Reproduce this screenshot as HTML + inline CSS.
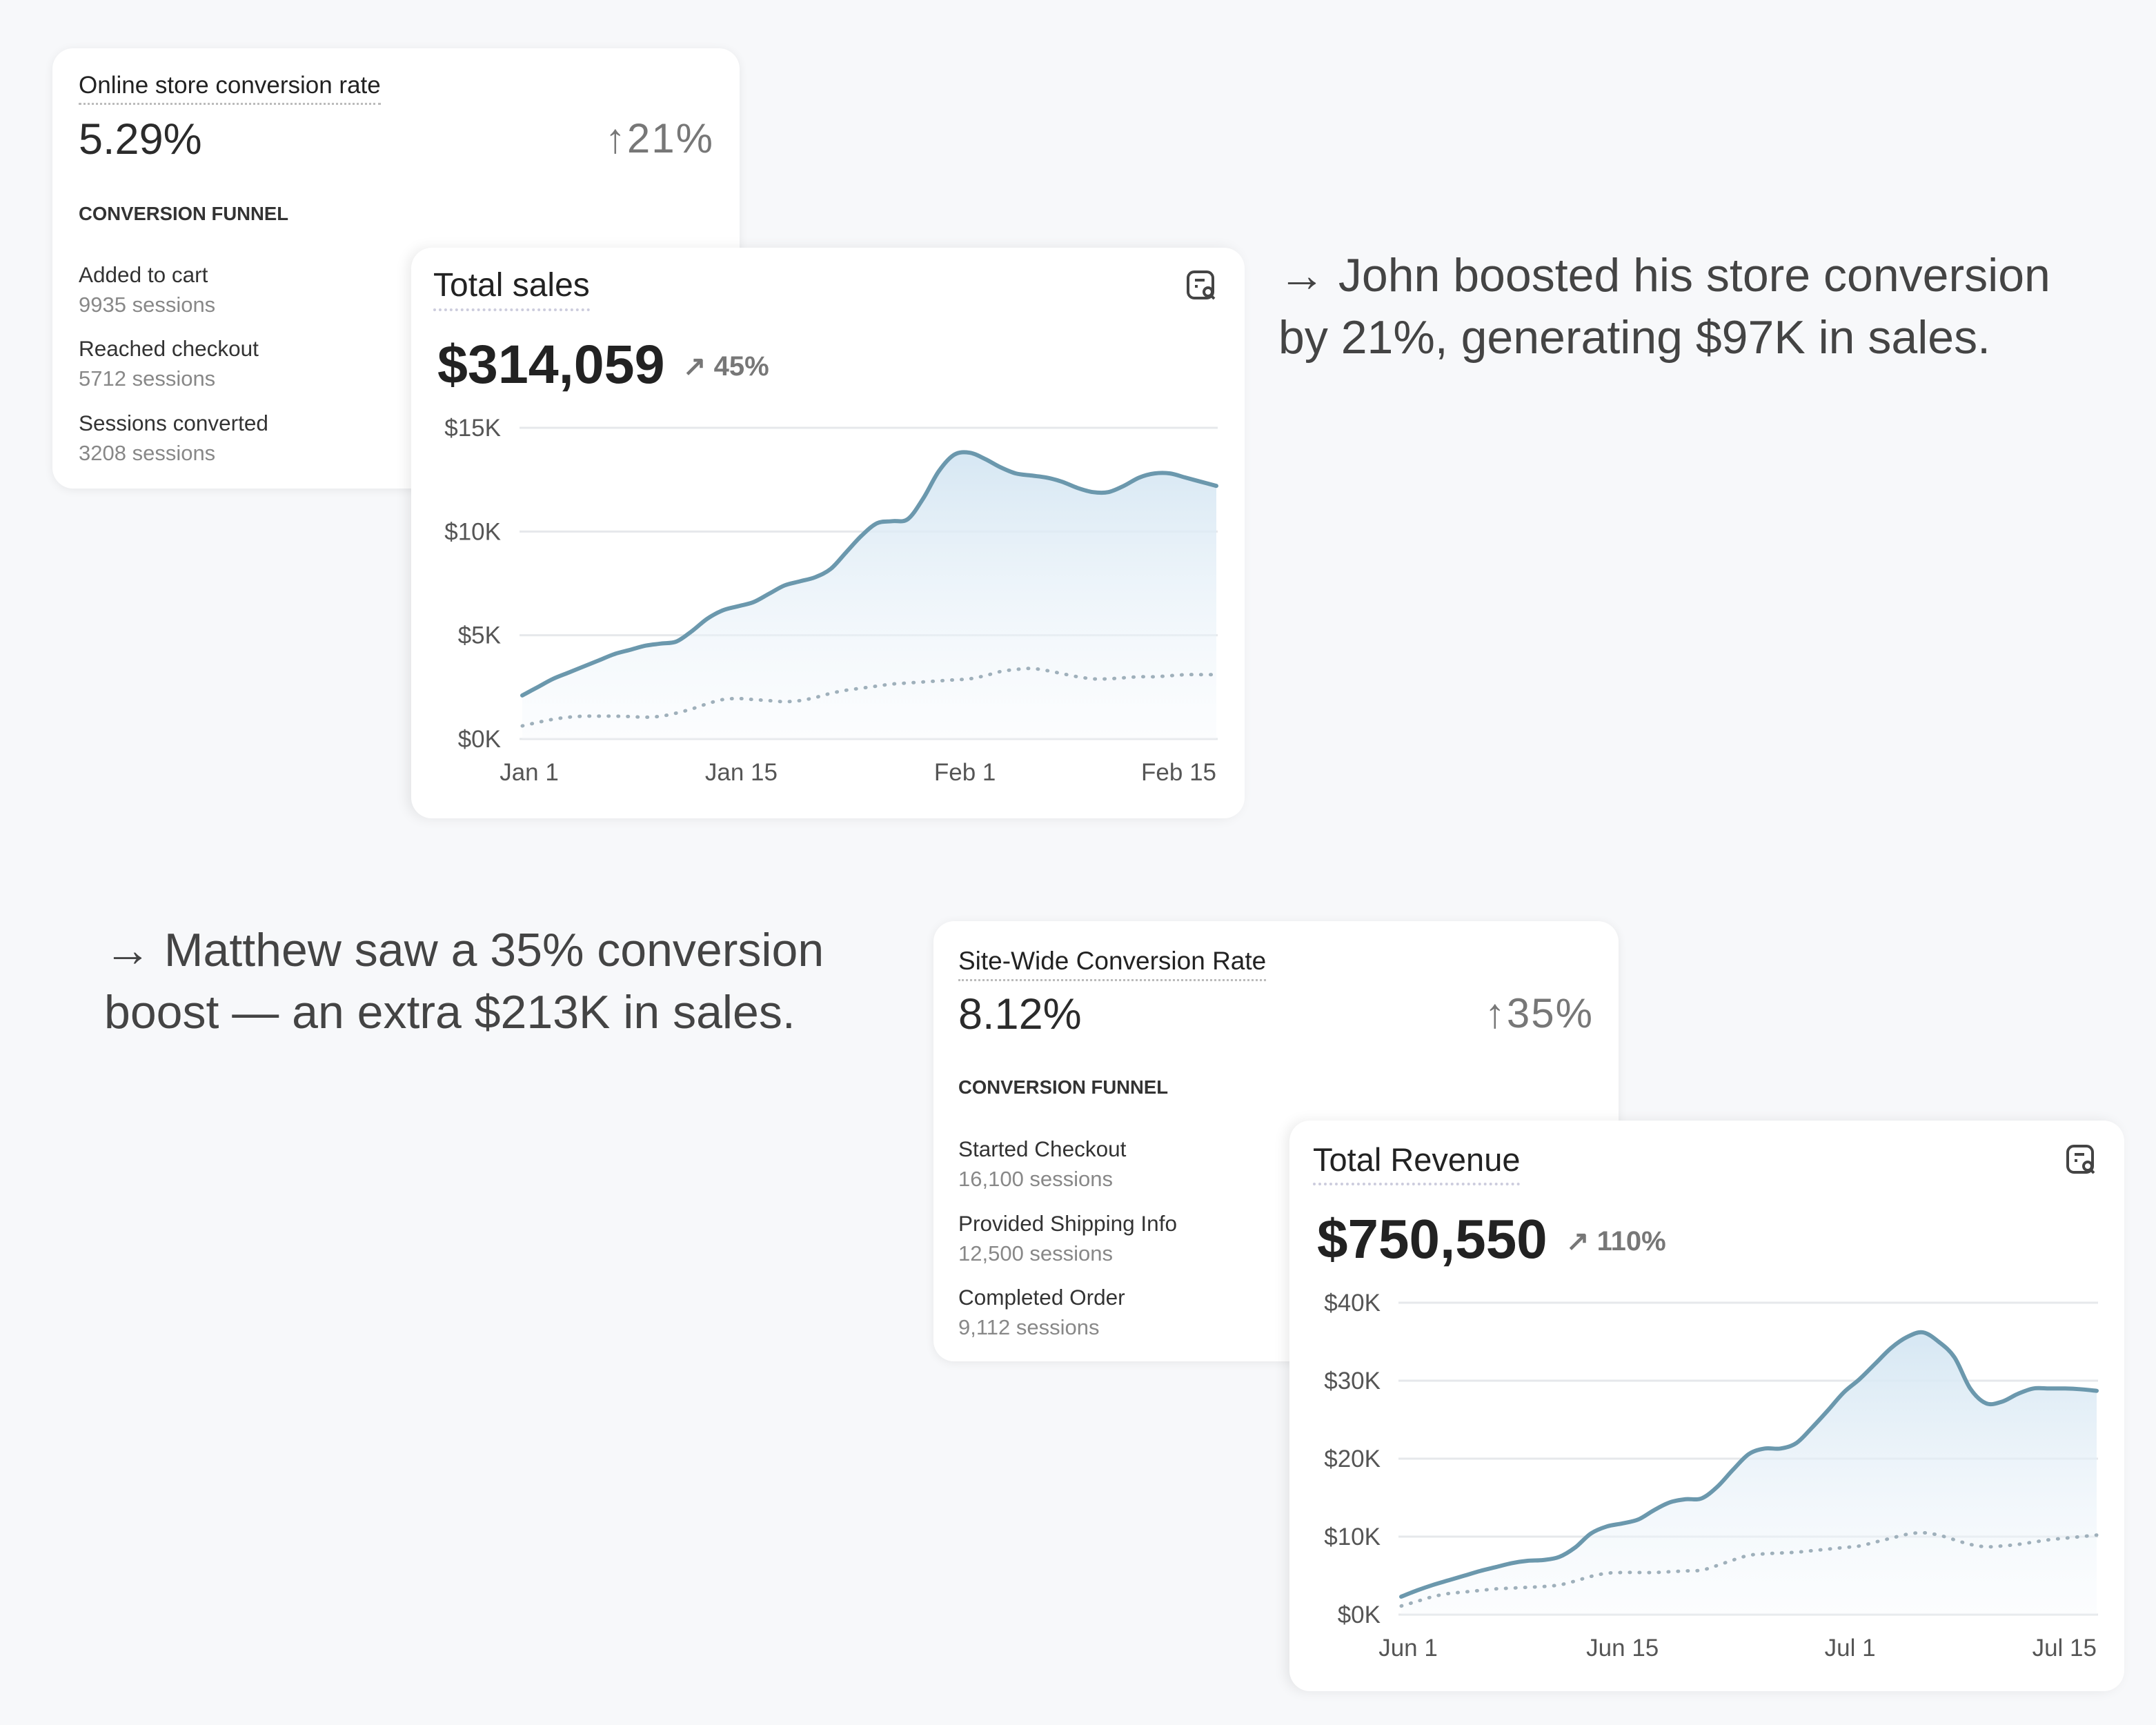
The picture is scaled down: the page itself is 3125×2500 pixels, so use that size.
<!DOCTYPE html>
<html><head><meta charset="utf-8"><style>
*{box-sizing:border-box;margin:0;padding:0}
body{width:3125px;height:2500px;background:#f7f8fa;font-family:"Liberation Sans",sans-serif;position:relative;overflow:hidden;color:#2a2a2a}
.card{position:absolute;background:#fff;border-radius:30px;box-shadow:0 2px 14px rgba(0,0,0,0.07)}
.abs{position:absolute;white-space:nowrap}
.ttl{font-size:35px;color:#222;border-bottom:3px dotted #bbb;padding-bottom:5px}
.big{font-size:63px;color:#2b2b2b}
.chg{font-size:60px;color:#777;letter-spacing:2px}
.fun{font-size:27.5px;font-weight:bold;color:#333}
.lab{font-size:31.5px;color:#333}
.ses{font-size:31px;color:#888}
.ctitle{font-size:48px;color:#222;border-bottom:4px dotted #ccd;padding-bottom:6px}
.cval{font-size:79px;font-weight:bold;color:#222}
.cpct{font-size:40px;color:#777;font-weight:bold}
.story{font-size:68px;color:#444;line-height:90px}
</style></head><body>
<div class="card" style="left:76px;top:70px;width:996px;height:638px"></div>
<div class="abs ttl" style="left:114px;top:104px">Online store conversion rate</div>
<div class="abs big" style="left:114px;top:166px">5.29%</div>
<div class="abs chg" style="right:2090px;top:166px">↑21%</div>
<div class="abs fun" style="left:114px;top:294px">CONVERSION FUNNEL</div>
<div class="abs lab" style="left:114px;top:380px">Added to cart</div>
<div class="abs ses" style="left:114px;top:424px">9935 sessions</div>
<div class="abs lab" style="left:114px;top:487px">Reached checkout</div>
<div class="abs ses" style="left:114px;top:531px">5712 sessions</div>
<div class="abs lab" style="left:114px;top:595px">Sessions converted</div>
<div class="abs ses" style="left:114px;top:639px">3208 sessions</div>

<div class="card" style="left:596px;top:359px;width:1208px;height:827px;box-shadow:-6px 0 18px rgba(0,0,0,0.08)"></div>
<div class="abs ctitle" style="left:628px;top:386px">Total sales</div>
<div class="abs cval" style="left:634px;top:482px">$314,059</div>
<div class="abs cpct" style="left:990px;top:508px">↗ 45%</div>
<svg class="abs" style="left:1718px;top:390px" width="48" height="48" viewBox="0 0 48 48"><rect x="4" y="4" width="36" height="38" rx="9" fill="none" stroke="#444" stroke-width="4"/><line x1="14" y1="16" x2="28" y2="16" stroke="#444" stroke-width="4"/><line x1="14" y1="25" x2="18" y2="25" stroke="#444" stroke-width="4"/><circle cx="33" cy="33" r="6" fill="#fff" stroke="#444" stroke-width="4"/><line x1="37" y1="38" x2="42" y2="43" stroke="#444" stroke-width="4"/></svg>
<svg id="chart1" class="abs" style="left:0;top:0" width="3125" height="2500"></svg>

<div class="abs story" style="left:1853px;top:354px">→ John boosted his store conversion<br>by 21%, generating $97K in sales.</div>
<div class="abs story" style="left:151px;top:1332px">→ Matthew saw a 35% conversion<br>boost — an extra $213K in sales.</div>

<div class="card" style="left:1353px;top:1335px;width:993px;height:638px"></div>
<div class="abs ttl" style="left:1389px;top:1372px;font-size:37px">Site-Wide Conversion Rate</div>
<div class="abs big" style="left:1389px;top:1434px">8.12%</div>
<div class="abs chg" style="right:815px;top:1434px">↑35%</div>
<div class="abs fun" style="left:1389px;top:1560px">CONVERSION FUNNEL</div>
<div class="abs lab" style="left:1389px;top:1647px">Started Checkout</div>
<div class="abs ses" style="left:1389px;top:1691px">16,100 sessions</div>
<div class="abs lab" style="left:1389px;top:1755px">Provided Shipping Info</div>
<div class="abs ses" style="left:1389px;top:1799px">12,500 sessions</div>
<div class="abs lab" style="left:1389px;top:1862px">Completed Order</div>
<div class="abs ses" style="left:1389px;top:1906px">9,112 sessions</div>

<div class="card" style="left:1869px;top:1624px;width:1210px;height:827px;box-shadow:-6px 0 18px rgba(0,0,0,0.08)"></div>
<div class="abs ctitle" style="left:1903px;top:1653px;font-size:47px">Total Revenue</div>
<div class="abs cval" style="left:1909px;top:1750px;font-size:80px">$750,550</div>
<div class="abs cpct" style="left:2270px;top:1776px">↗ 110%</div>
<svg class="abs" style="left:2993px;top:1657px" width="48" height="48" viewBox="0 0 48 48"><rect x="4" y="4" width="36" height="38" rx="9" fill="none" stroke="#444" stroke-width="4"/><line x1="14" y1="16" x2="28" y2="16" stroke="#444" stroke-width="4"/><line x1="14" y1="25" x2="18" y2="25" stroke="#444" stroke-width="4"/><circle cx="33" cy="33" r="6" fill="#fff" stroke="#444" stroke-width="4"/><line x1="37" y1="38" x2="42" y2="43" stroke="#444" stroke-width="4"/></svg>
<svg id="chart2" class="abs" style="left:0;top:0" width="3125" height="2500"></svg>

<script>
const salesCurrent=[2.1,2.5,2.9,3.2,3.5,3.8,4.1,4.3,4.5,4.6,4.7,5.2,5.8,6.2,6.4,6.6,7.0,7.4,7.6,7.8,8.2,9.0,9.8,10.4,10.5,10.6,11.6,12.9,13.7,13.8,13.5,13.1,12.8,12.7,12.6,12.4,12.1,11.9,11.9,12.2,12.6,12.8,12.8,12.6,12.4,12.2];
const salesPrevious=[0.63,0.8,0.95,1.05,1.1,1.1,1.1,1.08,1.05,1.1,1.25,1.45,1.7,1.9,1.95,1.9,1.85,1.8,1.85,2.0,2.2,2.35,2.45,2.55,2.65,2.7,2.75,2.8,2.85,2.9,3.05,3.25,3.35,3.4,3.3,3.15,3.0,2.9,2.9,2.95,3.0,3.0,3.05,3.1,3.1,3.1];
const salesYTicks=[0,5,10,15];
const salesYLabels=["$0K","$5K","$10K","$15K"];
const salesXTicks=[0,14.2,28.7,45];
const salesXLabels=["Jan 1","Jan 15","Feb 1","Feb 15"];

const revCurrent=[2.3,3.1,3.8,4.4,5.0,5.6,6.1,6.6,6.9,7.0,7.4,8.6,10.4,11.3,11.7,12.2,13.4,14.4,14.8,14.9,16.4,18.6,20.6,21.3,21.3,22.0,24.0,26.2,28.5,30.2,32.2,34.2,35.6,36.2,35.0,33.0,29.0,27.1,27.3,28.3,29.0,29.0,29.0,28.9,28.7];
const revPrevious=[1.1,1.7,2.3,2.7,2.9,3.1,3.3,3.4,3.5,3.6,3.8,4.3,4.9,5.3,5.4,5.4,5.4,5.5,5.6,5.7,6.3,7.0,7.6,7.8,7.9,8.0,8.2,8.4,8.6,8.8,9.3,9.8,10.3,10.5,10.2,9.6,9.0,8.7,8.8,9.0,9.3,9.6,9.8,10.0,10.2];
const revYTicks=[0,10,20,30,40];
const revYLabels=["$0K","$10K","$20K","$30K","$40K"];
const revXTicks=[0,14,28.4,44];
const revXLabels=["Jun 1","Jun 15","Jul 1","Jul 15"];

const NS="http://www.w3.org/2000/svg";
function mk(svg,tag,attrs){const e=document.createElementNS(NS,tag);for(const k in attrs)e.setAttribute(k,attrs[k]);svg.appendChild(e);return e;}
function smooth(pts){let d="M"+pts[0][0]+","+pts[0][1];for(let i=0;i<pts.length-1;i++){const p0=pts[Math.max(0,i-1)],p1=pts[i],p2=pts[i+1],p3=pts[Math.min(pts.length-1,i+2)];const c1x=p1[0]+(p2[0]-p0[0])/6,c1y=p1[1]+(p2[1]-p0[1])/6,c2x=p2[0]-(p3[0]-p1[0])/6,c2y=p2[1]-(p3[1]-p1[1])/6;d+=" C"+c1x+","+c1y+" "+c2x+","+c2y+" "+p2[0]+","+p2[1];}return d;}
function draw(id,cfg,cur,prev,yt,yl,xt,xl,gid){
 const svg=document.getElementById(id);
 const n=cur.length;
 const X=i=>cfg.x0+(cfg.x1-cfg.x0)*i/(n-1);
 const Y=v=>cfg.y0-(cfg.y0-cfg.y1)*v/cfg.max;
 const defs=mk(svg,"defs",{});
 const g=document.createElementNS(NS,"linearGradient");g.setAttribute("id",gid);g.setAttribute("x1","0");g.setAttribute("y1","0");g.setAttribute("x2","0");g.setAttribute("y2","1");defs.appendChild(g);
 mk(g,"stop",{offset:"0","stop-color":"#d6e7f3","stop-opacity":"1"});
 mk(g,"stop",{offset:"1","stop-color":"#f4f8fc","stop-opacity":"0.3"});
 yt.forEach((v,i)=>{
  const ln=mk(svg,"line",{x1:cfg.gx0,x2:cfg.x1+2,y1:Y(v),y2:Y(v),stroke:"#e6e8eb","stroke-width":3});
  
  
  const t=mk(svg,"text",{x:cfg.lx,y:Y(v)+12,"text-anchor":"end","font-size":35,fill:"#555","font-family":"Liberation Sans, sans-serif"});
  t.textContent=yl[i];
  
  
 });
 xt.forEach((d,i)=>{
  const last=i==xt.length-1;
  const t=mk(svg,"text",{x:X(d)+(i==0?10:0),y:cfg.y0+60,"text-anchor":last?"end":"middle","font-size":35,fill:"#555","font-family":"Liberation Sans, sans-serif"});
  t.textContent=xl[i];
  
  
 });
 const pts=cur.map((v,i)=>[X(i),Y(v)]);
 const line=smooth(pts);
 const area=mk(svg,"path",{d:line+" L"+X(n-1)+","+cfg.y0+" L"+X(0)+","+cfg.y0+" Z",fill:"url(#"+gid+")"});
 
 
 const pp=prev.map((v,i)=>[X(i),Y(v)]);
 const dl=mk(svg,"path",{d:smooth(pp),fill:"none",stroke:"#9fb0bb","stroke-width":5,"stroke-dasharray":"1 13","stroke-linecap":"round"});
 
 
 const cl=mk(svg,"path",{d:line,fill:"none",stroke:"#6b98ad","stroke-width":6,"stroke-linejoin":"round","stroke-linecap":"round"});
 
 
}
draw("chart1",{x0:757,x1:1763,gx0:753,y0:1071,y1:620,max:15,lx:726},salesCurrent,salesPrevious,salesYTicks,salesYLabels,salesXTicks,salesXLabels,"g1");
draw("chart2",{x0:2031,x1:3039,gx0:2027,y0:2340,y1:1888,max:40,lx:2001},revCurrent,revPrevious,revYTicks,revYLabels,revXTicks,revXLabels,"g2");
</script>
</body></html>
